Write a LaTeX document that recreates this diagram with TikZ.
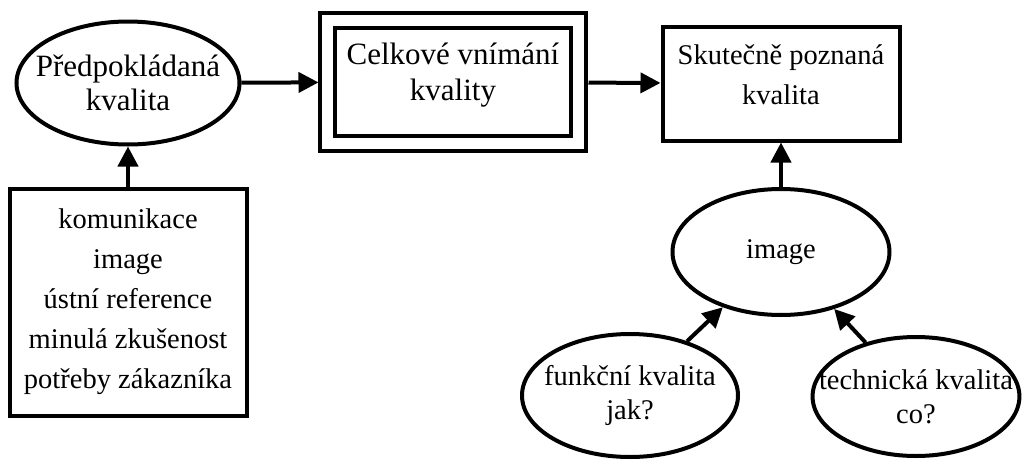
\documentclass[tikz,border=0pt]{standalone}
\usepackage{fontspec}
\setmainfont{Liberation Serif}
\usepackage{tikz}
\usetikzlibrary{arrows.meta,shapes,positioning}
\tikzset{QUAL style/.style={>={Triangle[length=10pt,width=10pt]},line width=2pt,every node/.append style={font=\fontsize{14.25pt}{17pt}\selectfont,align=center,inner sep=0pt}}}

\begin{document}
\begin{tikzpicture}[x=0.5pt,y=-0.5pt,QUAL style]
	\tikzstyle{oval}=[draw,ellipse,inner ysep=-4pt]
	\tikzstyle{frame}=[draw,rectangle]
	\useasboundingbox (0,0) rectangle (1030,461);

	\node[oval,minimum width=111.5pt,minimum height=61.5pt,inner xsep=-6.8pt,font=\fontsize{15.5pt}{17pt}\selectfont] (pre) at (128,83) {Předpokládaná\\kvalita};
	\node[frame,double,double distance=5.5pt,minimum width=125.5pt,minimum height=61.5pt,text depth=10pt,font=\fontsize{15.5pt}{18pt}\selectfont] (overall) at (453,82) {Celkové vnímání\\kvality};
	\node[frame,minimum width=118.5pt,minimum height=57pt,text depth=9pt,font=\fontsize{14.25pt}{20pt}\selectfont] (real) at (781,83.5) {Skutečně poznaná\\kvalita};
	\node[frame,minimum width=118.5pt,minimum height=113.5pt,font=\fontsize{14.25pt}{20pt}\selectfont] (list) at (128,302) {komunikace\\image\\ústní reference\\minulá zkušenost\\potřeby zákazníka};

	\node[oval,minimum width=108.5pt,minimum height=63pt] (img) at (781,252) {image};
	\node[oval,minimum width=108pt,minimum height=61.5pt,inner xsep=-4.8pt] (fun) at (630,395.5) {funkční kvalita\\jak?};
	\node[oval,minimum width=102pt,minimum height=59.5pt,inner xsep=-11.9pt] (tech) at (916,396.5) {technická kvalita\\co?};

	\path[->] 
	(pre) edge[shorten >=3.5pt] (overall)
	(overall) edge[shorten <=4pt] (real)
	(list) edge (pre)
	;

	\path[->] 
	(img) edge (real)
	(fun) edge (img)
	(tech) edge (img)
	;
\end{tikzpicture}
\end{document}
